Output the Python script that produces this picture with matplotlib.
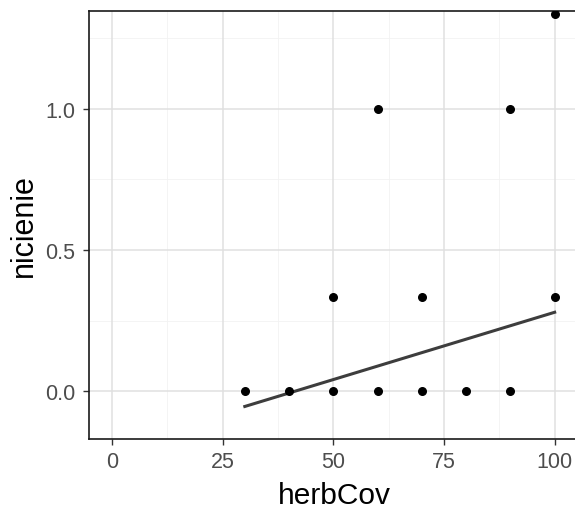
import numpy as np
import matplotlib.pyplot as plt

# herbCov vs nicienie
herb_cov = [30, 40, 50, 60, 70, 80, 90, 50, 70, 100, 60, 90, 100]
nicienie = [0.0, 0.0, 0.0, 0.0, 0.0, 0.0, 0.0, 0.333, 0.333, 0.333, 1.0, 1.0, 1.333]

# fitted line end points
fit_x = [30, 100]
fit_y = [-0.053, 0.28]

x_ticks = [0, 25, 50, 75, 100]
y_ticks = [0.0, 0.5, 1.0]
x_minor = [12.5, 37.5, 62.5, 87.5]
y_minor = [0.25, 0.75, 1.25]

plt.rcParams['font.family'] = ['Liberation Sans', 'DejaVu Sans']

fig = plt.figure(figsize=(5.75, 5.1), dpi=100)
ax = fig.add_axes([89 / 575, 1 - 440 / 510, 490 / 575, 428 / 510])

for v in x_minor:
    ax.axvline(v, color='#F2F2F2', lw=0.6, zorder=0)
for v in y_minor:
    ax.axhline(v, color='#F2F2F2', lw=0.6, zorder=0)
for v in x_ticks:
    ax.axvline(v, color='#E0E0E0', lw=1.1, zorder=0)
for v in y_ticks:
    ax.axhline(v, color='#E0E0E0', lw=1.1, zorder=0)

ax.plot(fit_x, fit_y, color='#3D3D3D', lw=2.2, zorder=2)
ax.scatter(herb_cov, nicienie, s=30, color='black', zorder=3, clip_on=True)

ax.set_xlim(-5.2, 105.5)
ax.set_ylim(-0.168, 1.345)
ax.set_xticks(x_ticks)
ax.set_yticks(y_ticks)
ax.set_yticklabels(['0.0', '0.5', '1.0'])

ax.tick_params(axis='both', labelsize=15.5, labelcolor='#4D4D4D', color='#333333',
               length=4, width=1)
ax.tick_params(axis='x', pad=5)
ax.tick_params(axis='y', pad=6)
for side in ['left', 'bottom', 'top']:
    ax.spines[side].set_color('#1A1A1A')
    ax.spines[side].set_linewidth(1.2)
ax.spines['right'].set_visible(False)

ax.set_xlabel('herbCov', fontsize=21.5, labelpad=6)
ax.set_ylabel('nicienie', fontsize=22, labelpad=4)

plt.savefig('out.png', dpi=100)
